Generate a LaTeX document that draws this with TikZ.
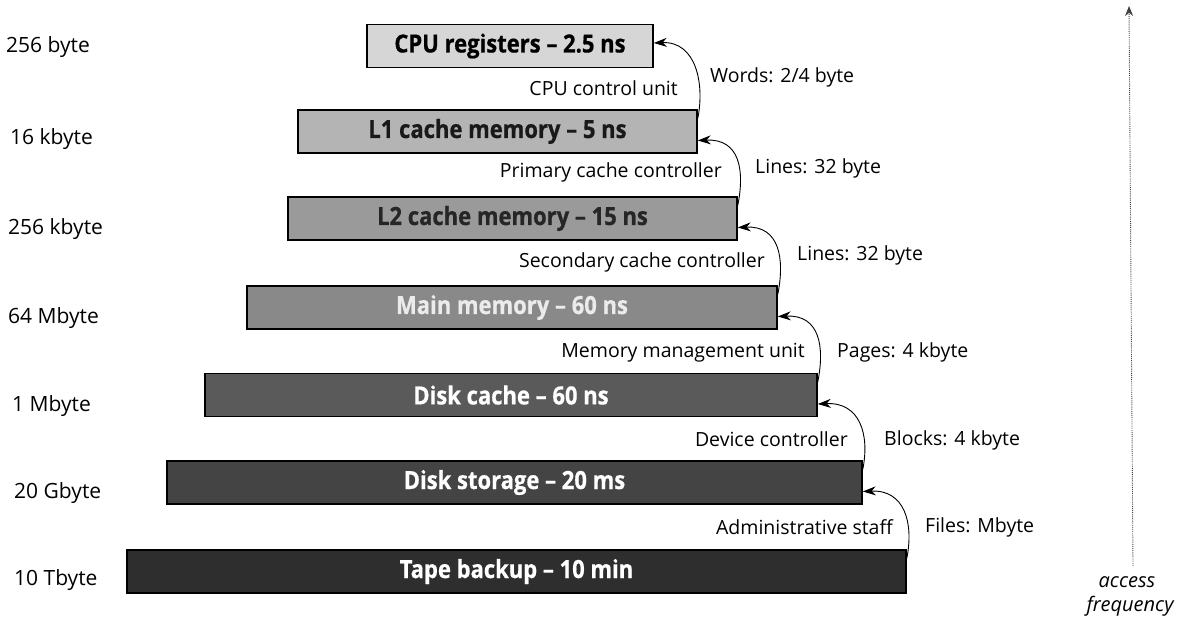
\documentclass[tikz,border=0pt]{standalone}
\usepackage{fontspec}
\setmainfont{Open Sans}
\newfontfamily\boxfont[FakeStretch=0.88,BoldFeatures={FakeBold=0.6}]{Open Sans}
\usetikzlibrary{arrows.meta}
\definecolor{gA}{HTML}{D6D6D6}
\definecolor{gB}{HTML}{B4B4B4}
\definecolor{gC}{HTML}{9A9A9A}
\definecolor{gD}{HTML}{898989}
\definecolor{gE}{HTML}{5A5A5A}
\definecolor{gF}{HTML}{444444}
\definecolor{gG}{HTML}{2E2E2E}
\begin{document}
\begin{tikzpicture}[x=1pt,y=-1pt,
  memblock/.style={draw=black, line width=1.6pt, minimum height=43pt, inner sep=0pt,
    font=\boxfont\bfseries\fontsize{25}{28}\selectfont},
  lbl/.style={font=\fontsize{19.5}{23}\selectfont, inner sep=0pt},
  sizelbl/.style={font=\fontsize{21}{24}\selectfont, inner sep=0pt, anchor=west},
  ctrl/.style={lbl, anchor=east},
  unit/.style={lbl, anchor=west},
  flow/.style={-{Stealth[length=13pt,width=9pt]}, line width=0.9pt},
  hand/.style={font=\itshape\fontsize{20}{22}\selectfont, inner sep=0pt}]
\useasboundingbox (0,0) rectangle (1200,632);

% memory blocks
\node[memblock, fill=gA, text=black,  minimum width=286pt] (cpu)  at (510,46)    {CPU registers – 2.5 ns};
\node[memblock, fill=gB, text=black!90, minimum width=399pt] (lone) at (497.5,131.5) {L1 cache memory – 5 ns};
\node[memblock, fill=gC, text=black!85, minimum width=449pt] (ltwo) at (512.5,218.5) {L2 cache memory – 15 ns};
\node[memblock, fill=gD, text=black!8,  minimum width=530pt] (mainm) at (512,307.5) {Main memory – 60 ns};
\node[memblock, fill=gE, text=white,  minimum width=612pt] (dcache) at (511,395) {Disk cache – 60 ns};
\node[memblock, fill=gF, text=white,  minimum width=695pt] (dstore) at (514.5,482.5) {Disk storage – 20 ms};
\node[memblock, fill=gG, text=white,  minimum width=779pt] (tape) at (516.5,571.5) {Tape backup – 10 min};

% sizes
\node[sizelbl] (s1) at (6,47)  {256 byte};
\node[sizelbl] (s2) at (10,139) {16 kbyte};
\node[sizelbl] (s3) at (8,229) {256 kbyte};
\node[sizelbl] (s4) at (8,318) {64 Mbyte};
\node[sizelbl] (s5) at (12,406) {1 Mbyte};
\node[sizelbl] (s6) at (14,493) {20 Gbyte};
\node[sizelbl] (s7) at (14,580) {10 Tbyte};

% transfers
\draw[flow] ([yshift=-9pt]lone.north east) .. controls +(7,-35) and +(42,-2) .. ([yshift=3pt]cpu.east);
\draw[flow] ([yshift=-9pt]ltwo.north east) .. controls +(7,-35) and +(42,-2) .. ([yshift=-9pt]lone.east);
\draw[flow] ([yshift=-9pt]mainm.north east) .. controls +(7,-35) and +(42,-2) .. ([yshift=-9pt]ltwo.east);
\draw[flow] ([yshift=-9pt]dcache.north east) .. controls +(7,-35) and +(42,-2) .. ([yshift=-9pt]mainm.east);
\draw[flow] ([yshift=-9pt]dstore.north east) .. controls +(7,-35) and +(42,-2) .. ([yshift=-9pt]dcache.east);
\draw[flow] ([yshift=-9pt]tape.north east) .. controls +(7,-35) and +(42,-2) .. ([yshift=-9pt]dstore.east);

% controllers
\node[ctrl] (c1) at (678,88)  {CPU control unit};
\node[ctrl] (c2) at (722,172) {Primary cache controller};
\node[ctrl] (c3) at (765,262) {Secondary cache controller};
\node[ctrl] (c4) at (805,353) {Memory management unit};
\node[ctrl] (c5) at (848,439) {Device controller};
\node[ctrl] (c6) at (893,527) {Administrative staff};

% units
\node[unit] (u1) at (710,77)  {Words: 2/4 byte};
\node[unit] (u2) at (755,168) {Lines: 32 byte};
\node[unit] (u3) at (797,255) {Lines: 32 byte};
\node[unit] (u4) at (837,352) {Pages: 4 kbyte};
\node[unit] (u5) at (884,440) {Blocks: 4 kbyte};
\node[unit] (u6) at (925,527) {Files: Mbyte};

% access frequency axis
\coordinate (axb) at (1133,566);
\coordinate (axt) at (1129,6);
\draw[densely dotted, line width=0.9pt, black!75, -{Stealth[length=10pt,width=8pt]}] (axb) -- (axt);
\node[hand] (h1) at (1127,582) {access};
\node[hand] (h2) at (1130,606) {frequency};
\end{tikzpicture}
\end{document}
